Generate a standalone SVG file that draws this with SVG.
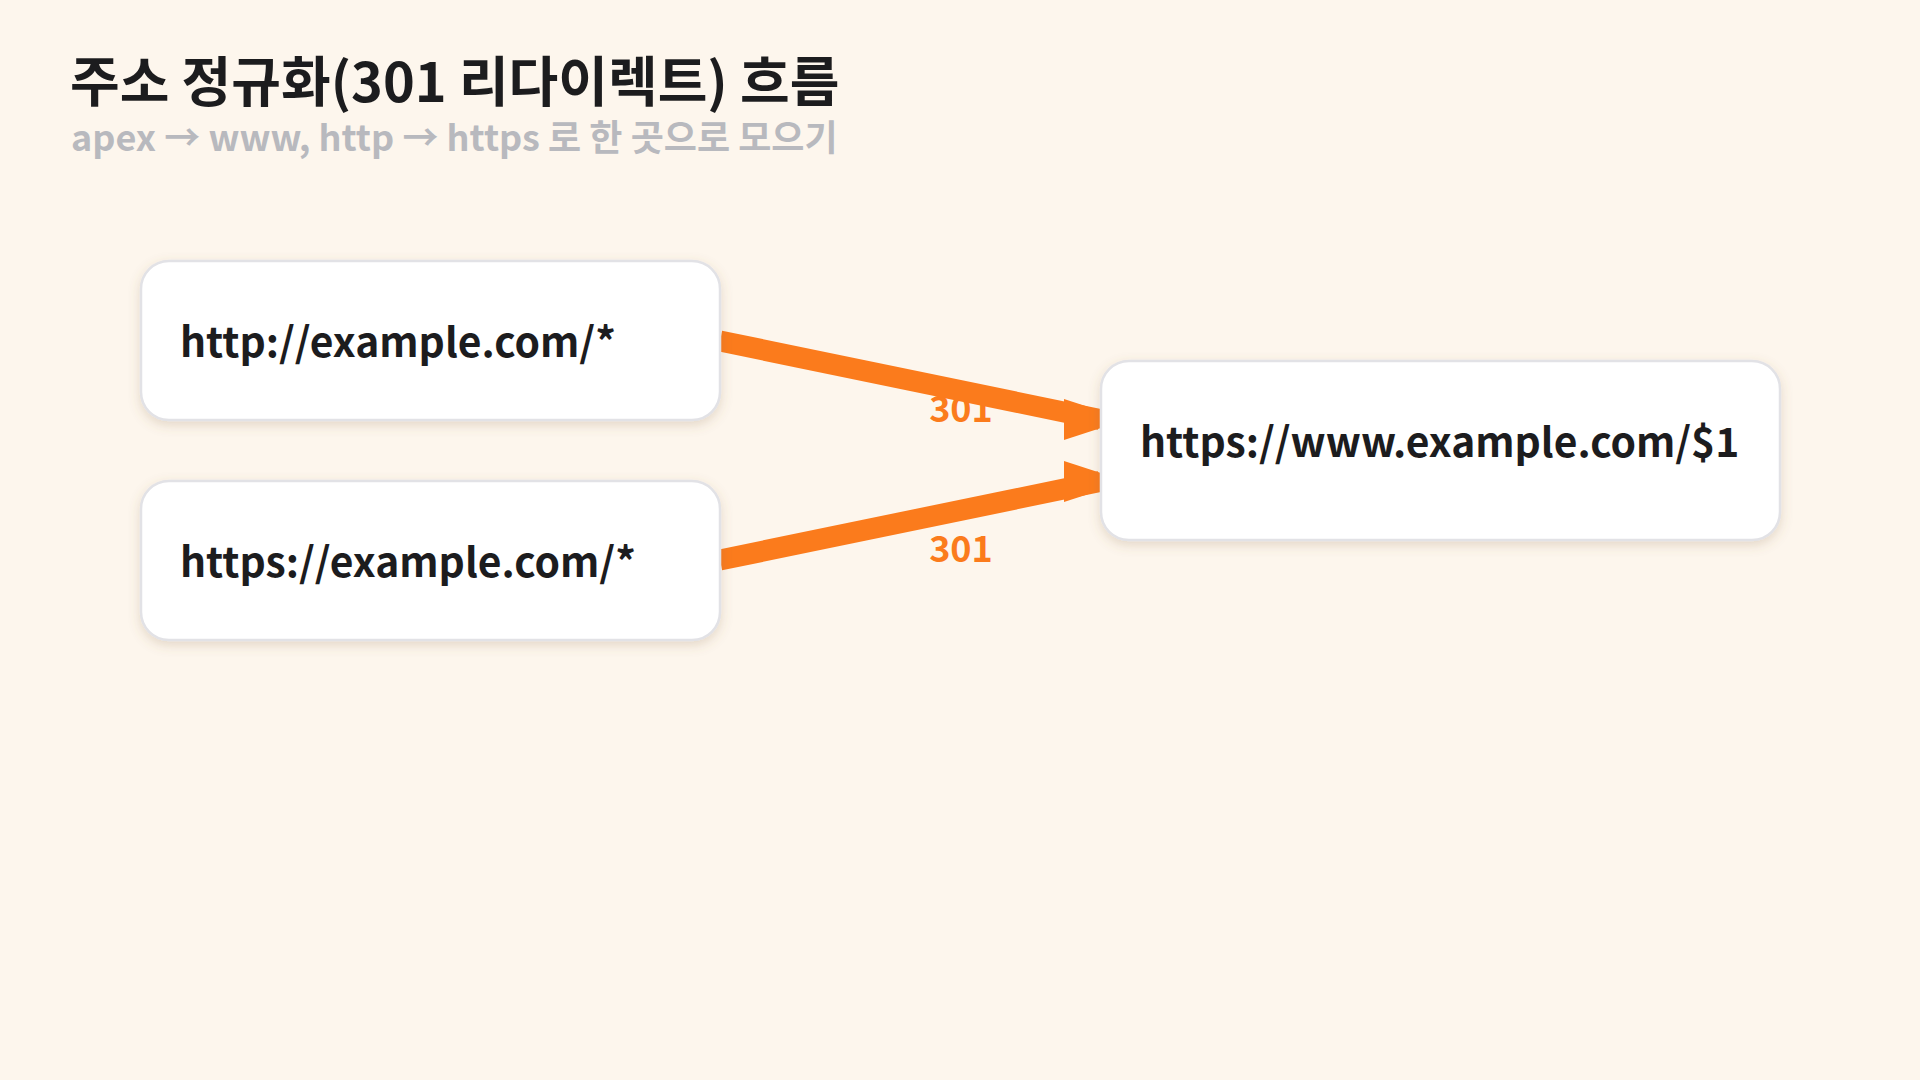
<svg xmlns="http://www.w3.org/2000/svg" width="1920" height="1080" viewBox="0 0 1920 1080">
<defs>
<style>
.bg{fill:#fdf6ed}
.title{font-family:"Noto Sans CJK KR","Noto Sans",sans-serif;font-weight:700;font-size:54px;fill:#1c1c1e}
.sub{font-family:"Noto Sans CJK KR","Noto Sans",sans-serif;font-weight:700;font-size:36px;fill:#b8b9be}
.box{fill:#ffffff;stroke:#e2e2e6;stroke-width:2.5;filter:url(#sh)}
.ntext{font-family:"Noto Sans CJK KR","Noto Sans",sans-serif;font-weight:700;font-size:40.8px;fill:#1c1c1e}
.edge{fill:none;stroke:#fb7b1c;stroke-width:21;marker-end:url(#ah)}
.elabel{font-family:"Noto Sans CJK KR","Noto Sans",sans-serif;font-weight:700;font-size:36px;fill:#fb7b1c;text-anchor:middle}
</style>
<filter id="sh" x="-10%" y="-20%" width="120%" height="150%">
<feDropShadow dx="0" dy="4" stdDeviation="6" flood-color="#8a6a45" flood-opacity="0.22"/>
</filter>
<marker id="ah" markerUnits="userSpaceOnUse" orient="0" markerWidth="64" markerHeight="42" refX="36" refY="20.5" viewBox="0 0 64 42" overflow="visible">
<path d="M0,0 L63,20.5 L0,41 Z" fill="#fb7b1c"/>
</marker>
</defs>
<rect class="bg" x="0" y="0" width="1920" height="1080"/>
<g id="title">
<text class="title" x="70" y="102">주소 정규화(301 리다이렉트) 흐름</text>
<text class="sub" x="71" y="151">apex → www, http → https 로 한 곳으로 모으기</text>
</g>
<g id="connectors">
<text class="elabel" x="961" y="422">301</text>
<text class="elabel" x="961" y="562">301</text>
<path class="edge" d="M720,341 L1100,419.5"/>
<path class="edge" d="M720,560 L1100,481.5"/>
</g>
<g id="node-http">
<rect class="box" x="141" y="261" width="579" height="159" rx="28"/>
<text class="ntext" x="180" y="357">http://example.com/*</text>
</g>
<g id="node-https-apex">
<rect class="box" x="141" y="481" width="579" height="159" rx="28"/>
<text class="ntext" x="180" y="577">https://example.com/*</text>
</g>
<g id="node-www">
<rect class="box" x="1101" y="361" width="679" height="179" rx="28"/>
<text class="ntext" x="1140" y="457">https://www.example.com/$1</text>
</g>
</svg>
